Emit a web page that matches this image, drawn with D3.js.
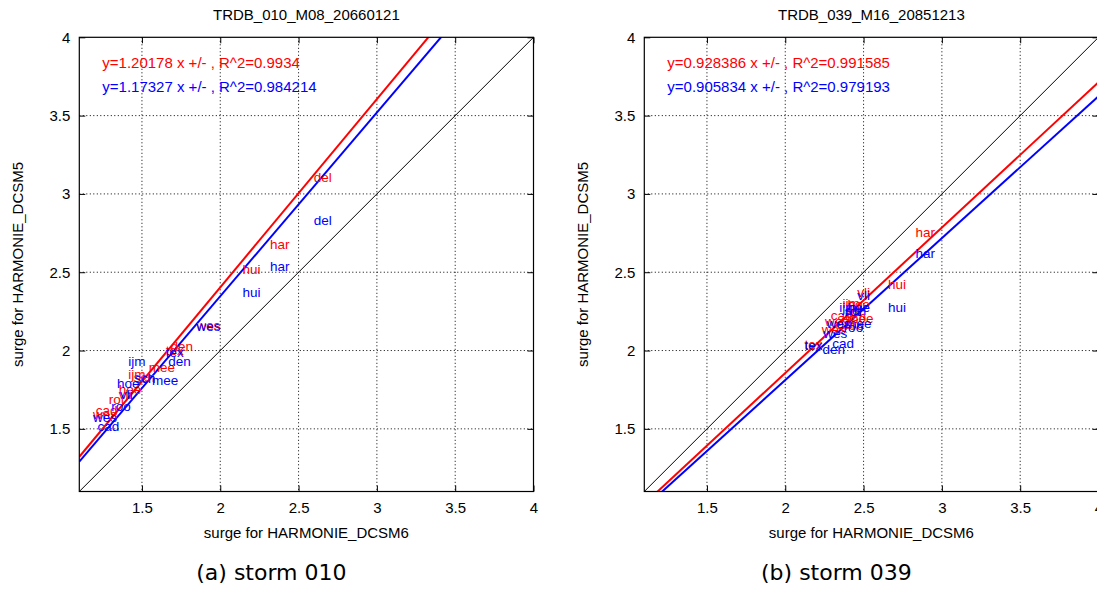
<!DOCTYPE html>
<html>
<head>
<meta charset="utf-8">
<script src="https://cdn.jsdelivr.net/npm/d3@7"></script>
<style>
  body { margin: 0; background: #fff; }
  svg { display: block; font-family: "Liberation Sans", Arial, sans-serif; }
  .grid line { stroke: #000; stroke-width: 1; stroke-dasharray: 1,2.5; }
  .caption { font-family: "DejaVu Sans", sans-serif; }
</style>
</head>
<body>
<svg id="chart" width="1097" height="590"></svg>
<script>
// ---- data ----
const axisDomain = [1.1, 4];
const tickValues = [1.5, 2, 2.5, 3, 3.5, 4];
const panelTitles = ['TRDB_010_M08_20660121', 'TRDB_039_M16_20851213'];
const panelCaptions = ['(a) storm 010', '(b) storm 039'];
const xTitle = 'surge for HARMONIE_DCSM6';
const yTitle = 'surge for HARMONIE_DCSM5';

const redSlopes = [1.20178, 0.928386];
const redR2 = [0.9934, 0.991585];
const blueSlopes = [1.17327, 0.905834];
const blueR2 = [0.984214, 0.979193];

const redStations010 = [
  {name: 'del', x: 2.655, y: 3.105}, {name: 'har', x: 2.38, y: 2.68},
  {name: 'hui', x: 2.20, y: 2.52}, {name: 'wes', x: 1.925, y: 2.16},
  {name: 'den', x: 1.754, y: 2.03}, {name: 'tex', x: 1.71, y: 2.0},
  {name: 'ijm', x: 1.467, y: 1.85}, {name: 'mee', x: 1.627, y: 1.897},
  {name: 'sch', x: 1.515, y: 1.83}, {name: 'hoe', x: 1.424, y: 1.753},
  {name: 'vli', x: 1.392, y: 1.723}, {name: 'rot', x: 1.339, y: 1.691},
  {name: 'cad', x: 1.275, y: 1.617}, {name: 'wes', x: 1.264, y: 1.596}
];
const blueStations010 = [
  {name: 'del', x: 2.655, y: 2.83}, {name: 'har', x: 2.38, y: 2.54},
  {name: 'hui', x: 2.20, y: 2.37}, {name: 'wes', x: 1.925, y: 2.155},
  {name: 'den', x: 1.74, y: 1.933}, {name: 'tex', x: 1.71, y: 1.99},
  {name: 'ijm', x: 1.467, y: 1.933}, {name: 'mee', x: 1.648, y: 1.812},
  {name: 'sch', x: 1.52, y: 1.823}, {name: 'hoe', x: 1.413, y: 1.795},
  {name: 'vli', x: 1.40, y: 1.72}, {name: 'roo', x: 1.366, y: 1.648},
  {name: 'cad', x: 1.285, y: 1.519}, {name: 'wes', x: 1.264, y: 1.575}
];
const redStations039 = [
  {name: 'har', x: 2.894, y: 2.758}, {name: 'hui', x: 2.713, y: 2.425},
  {name: 'vli', x: 2.50, y: 2.37}, {name: 'ijm', x: 2.42, y: 2.30},
  {name: 'hoe', x: 2.47, y: 2.295}, {name: 'rot', x: 2.44, y: 2.25},
  {name: 'cad', x: 2.36, y: 2.227}, {name: 'sch', x: 2.45, y: 2.22},
  {name: 'mee', x: 2.48, y: 2.205}, {name: 'den', x: 2.40, y: 2.17},
  {name: 'wes', x: 2.33, y: 2.19}, {name: 'roo', x: 2.44, y: 2.165},
  {name: 'wes', x: 2.31, y: 2.135}, {name: 'tex', x: 2.18, y: 2.04}
];
const blueStations039 = [
  {name: 'har', x: 2.894, y: 2.62}, {name: 'hui', x: 2.713, y: 2.28},
  {name: 'vli', x: 2.50, y: 2.354}, {name: 'ijm', x: 2.40, y: 2.28},
  {name: 'hoe', x: 2.47, y: 2.28}, {name: 'sch', x: 2.45, y: 2.26},
  {name: 'rot', x: 2.43, y: 2.25}, {name: 'cad', x: 2.37, y: 2.046},
  {name: 'wes', x: 2.34, y: 2.178}, {name: 'mee', x: 2.467, y: 2.178},
  {name: 'roo', x: 2.435, y: 2.152}, {name: 'wes', x: 2.32, y: 2.11},
  {name: 'tex', x: 2.18, y: 2.035}, {name: 'den', x: 2.31, y: 2.008}
];

const panels = [
  {left: 79.3, red: redStations010, blue: blueStations010},
  {left: 644.3, red: redStations039, blue: blueStations039}
];

const config = {top: 37.3, size: 454.2, red: '#ff0000', blue: '#0000ff'};
const svg = d3.select('#chart');

panels.forEach((p, i) => {
  const x = d3.scaleLinear().domain(axisDomain).range([0, config.size]);
  const y = d3.scaleLinear().domain(axisDomain).range([config.size, 0]);

  const g = svg.append('g')
      .attr('transform', `translate(${p.left},${config.top})`);

  g.append('defs').append('clipPath')
      .attr('id', `clip${i}`)
    .append('rect')
      .attr('width', config.size)
      .attr('height', config.size);

  // dotted grid
  const grid = g.append('g').attr('class', 'grid');
  grid.selectAll('.gx').data(tickValues.filter(t => t < axisDomain[1]))
    .join('line')
      .attr('x1', d => x(d)).attr('x2', d => x(d))
      .attr('y1', 0).attr('y2', config.size);
  grid.selectAll('.gy').data(tickValues.filter(t => t < axisDomain[1]))
    .join('line')
      .attr('class', 'gy')
      .attr('y1', d => y(d)).attr('y2', d => y(d))
      .attr('x1', 0).attr('x2', config.size);

  // axes (ticks inside, mirrored)
  const xAxis = d3.axisBottom(x).tickValues(tickValues).tickSize(-6).tickPadding(11).tickFormat(d3.format('~g'));
  const yAxis = d3.axisLeft(y).tickValues(tickValues).tickSize(-6).tickPadding(9).tickFormat(d3.format('~g'));
  const xAxisG = g.append('g').attr('transform', `translate(0,${config.size})`).call(xAxis);
  const yAxisG = g.append('g').call(yAxis);
  g.append('g').call(d3.axisTop(x).tickValues(tickValues).tickSize(-6).tickFormat(''));
  g.append('g').attr('transform', `translate(${config.size},0)`)
      .call(d3.axisRight(y).tickValues(tickValues).tickSize(-6).tickFormat(''));
  g.selectAll('.domain').remove();
  g.selectAll('.tick line').attr('stroke', '#000');
  [xAxisG, yAxisG].forEach(a => a.selectAll('text')
      .attr('font-size', 15).attr('font-family', '"Liberation Sans", Arial, sans-serif').attr('fill', '#000'));

  // lines
  const plot = g.append('g').attr('clip-path', `url(#clip${i})`);
  const fitLine = slope => d3.line()
      .x(d => x(d))
      .y(d => y(slope * d));
  plot.append('path').datum(axisDomain)
      .attr('d', fitLine(1)).attr('fill', 'none').attr('stroke', '#000').attr('stroke-width', 1);
  plot.append('path').datum(axisDomain)
      .attr('d', fitLine(redSlopes[i])).attr('fill', 'none').attr('stroke', config.red).attr('stroke-width', 2);
  plot.append('path').datum(axisDomain)
      .attr('d', fitLine(blueSlopes[i])).attr('fill', 'none').attr('stroke', config.blue).attr('stroke-width', 2);

  // station labels
  [['red', p.red], ['blue', p.blue]].forEach(([col, stations]) => {
    plot.selectAll(`.lab-${col}`).data(stations)
      .join('text')
        .attr('class', `lab-${col}`)
        .attr('x', d => x(d.x))
        .attr('y', d => y(d.y))
        .attr('dy', '0.36em')
        .attr('text-anchor', 'middle')
        .attr('font-size', 13.5)
        .attr('fill', config[col])
        .text(d => d.name);
  });

  // frame
  g.append('rect')
      .attr('width', config.size).attr('height', config.size)
      .attr('fill', 'none').attr('stroke', '#000').attr('stroke-width', 1.2);

  // regression text
  g.append('text')
      .attr('x', 23).attr('y', 31)
      .attr('font-size', 15).attr('fill', config.red)
      .text(`y=${redSlopes[i]} x +/- , R^2=${redR2[i]}`);
  g.append('text')
      .attr('x', 23).attr('y', 55)
      .attr('font-size', 15).attr('fill', config.blue)
      .text(`y=${blueSlopes[i]} x +/- , R^2=${blueR2[i]}`);

  // titles
  g.append('text')
      .attr('x', config.size / 2).attr('y', -17)
      .attr('text-anchor', 'middle').attr('font-size', 15)
      .text(panelTitles[i]);
  g.append('text')
      .attr('x', config.size / 2).attr('y', config.size + 47)
      .attr('text-anchor', 'middle').attr('font-size', 15)
      .text(xTitle);
  g.append('text')
      .attr('transform', `translate(${-56},${config.size / 2}) rotate(-90)`)
      .attr('text-anchor', 'middle').attr('font-size', 15)
      .text(yTitle);
  g.append('text')
      .attr('class', 'caption')
      .attr('x', config.size / 2 - 35).attr('y', config.size + 89)
      .attr('text-anchor', 'middle').attr('font-size', 22)
      .text(panelCaptions[i]);
});
</script>
</body>
</html>
